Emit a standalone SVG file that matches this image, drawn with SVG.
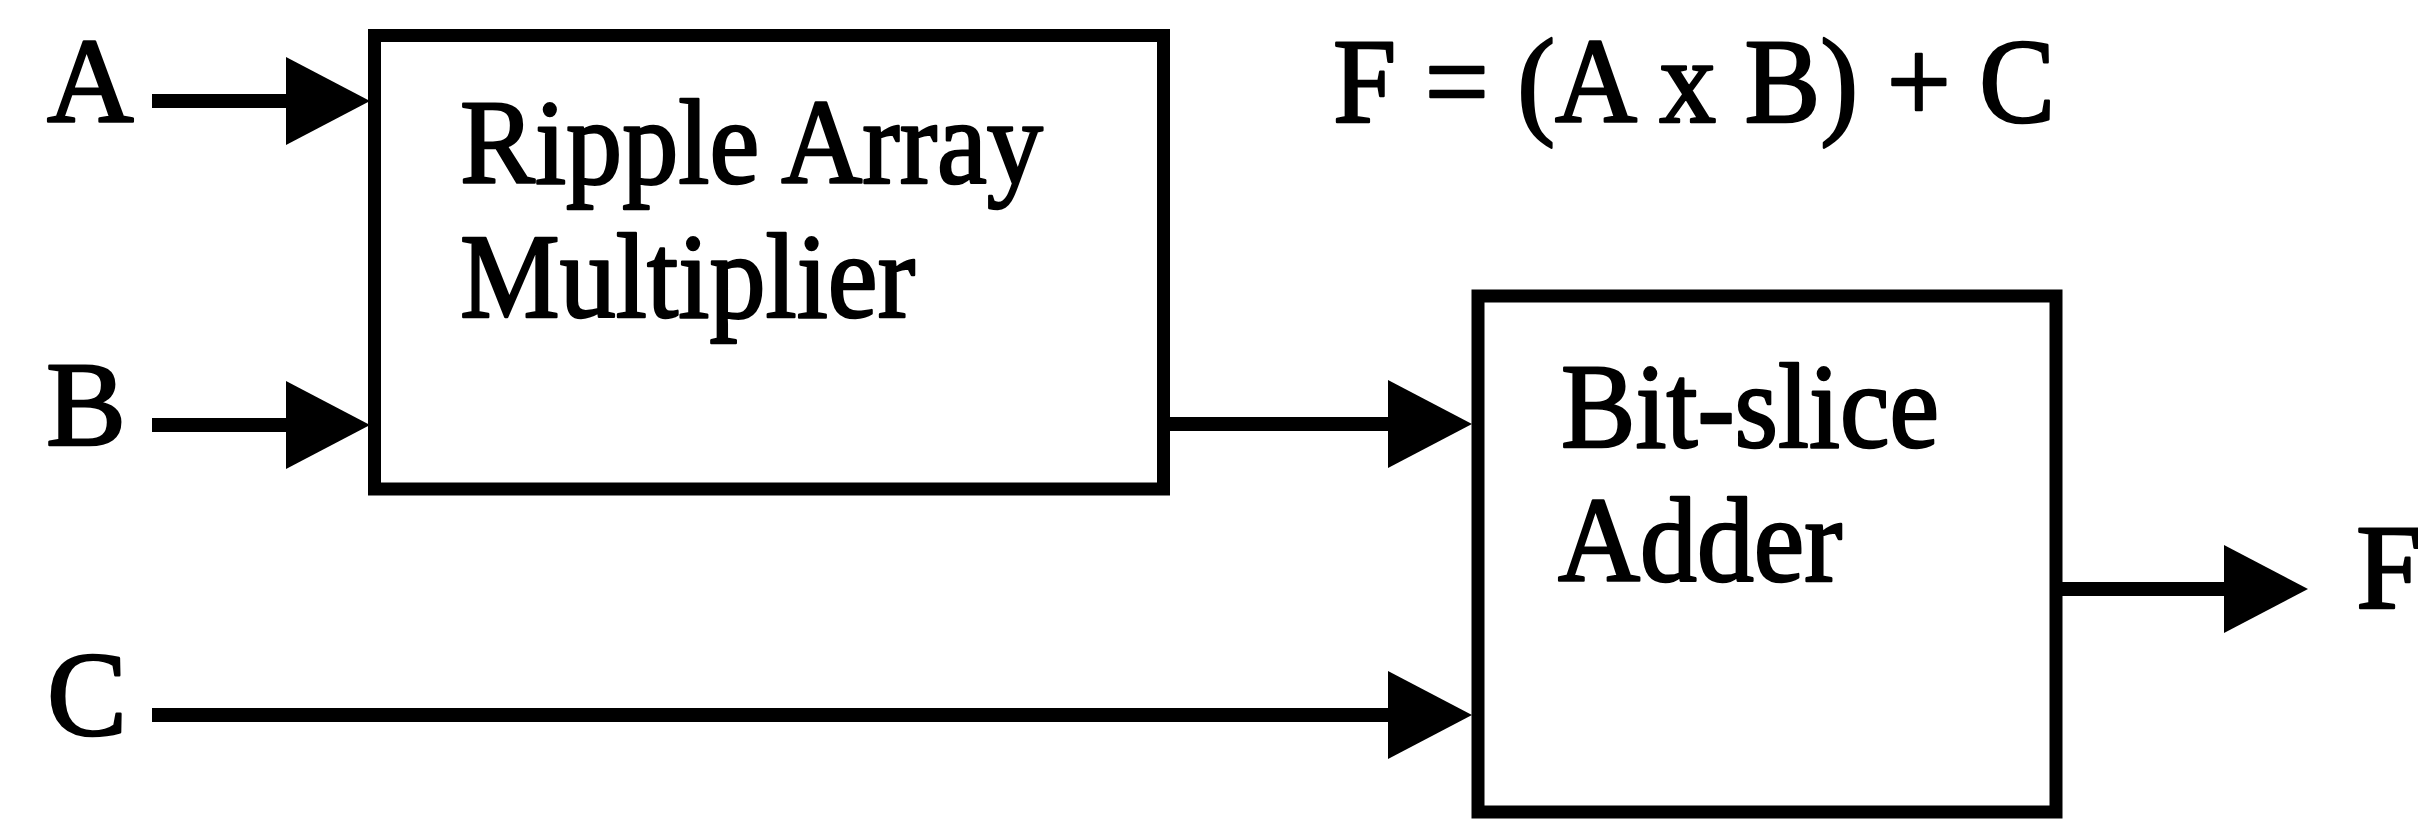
<svg xmlns="http://www.w3.org/2000/svg" width="2418" height="819" viewBox="0 0 2418 819">
<style>
  .box { fill: #ffffff; stroke: #000000; stroke-width: 13; }
  .wire { fill: none; stroke: #000000; stroke-width: 14; stroke-linecap: butt; }
  .lbl { font-family: "Liberation Serif", "Times New Roman", serif; font-size: 120px; fill: #000000; stroke: #000000; stroke-width: 2.5; stroke-linejoin: round; }
</style>
<defs>
  <marker id="head" markerUnits="userSpaceOnUse" markerWidth="84" markerHeight="88" refX="0" refY="44" orient="auto" viewBox="0 0 84 88">
    <path d="M0,0 L84,44 L0,88 Z" fill="#000000"/>
  </marker>
</defs>
<rect x="0" y="0" width="2418" height="819" fill="#ffffff"/>

<g id="connectors">
  <path class="wire" d="M152,101 L286,101" marker-end="url(#head)"/>
  <path class="wire" d="M152,425 L286,425" marker-end="url(#head)"/>
  <path class="wire" d="M1170,424 L1388,424" marker-end="url(#head)"/>
  <path class="wire" d="M152,715 L1388,715" marker-end="url(#head)"/>
  <path class="wire" d="M2062,589 L2224,589" marker-end="url(#head)"/>
</g>

<g id="multiplier">
  <rect class="box" x="374.5" y="35.5" width="789" height="453.5"/>
  <text class="lbl" x="460" y="183" textLength="583" lengthAdjust="spacingAndGlyphs">Ripple Array</text>
  <text class="lbl" x="460" y="317" textLength="455" lengthAdjust="spacingAndGlyphs">Multiplier</text>
</g>

<g id="adder">
  <rect class="box" x="1478" y="296" width="578" height="516"/>
  <text class="lbl" x="1561" y="447" textLength="378" lengthAdjust="spacingAndGlyphs">Bit-slice</text>
  <text class="lbl" x="1558" y="581" textLength="284" lengthAdjust="spacingAndGlyphs">Adder</text>
</g>

<g id="input-A"><text class="lbl" x="47" y="122">A</text></g>
<g id="input-B"><text class="lbl" x="46" y="445">B</text></g>
<g id="input-C"><text class="lbl" x="47" y="735">C</text></g>
<g id="output-F"><text class="lbl" x="2356" y="608">F</text></g>
<g id="formula"><text class="lbl" x="1333" y="122" textLength="722" lengthAdjust="spacingAndGlyphs">F = (A x B) + C</text></g>
</svg>
